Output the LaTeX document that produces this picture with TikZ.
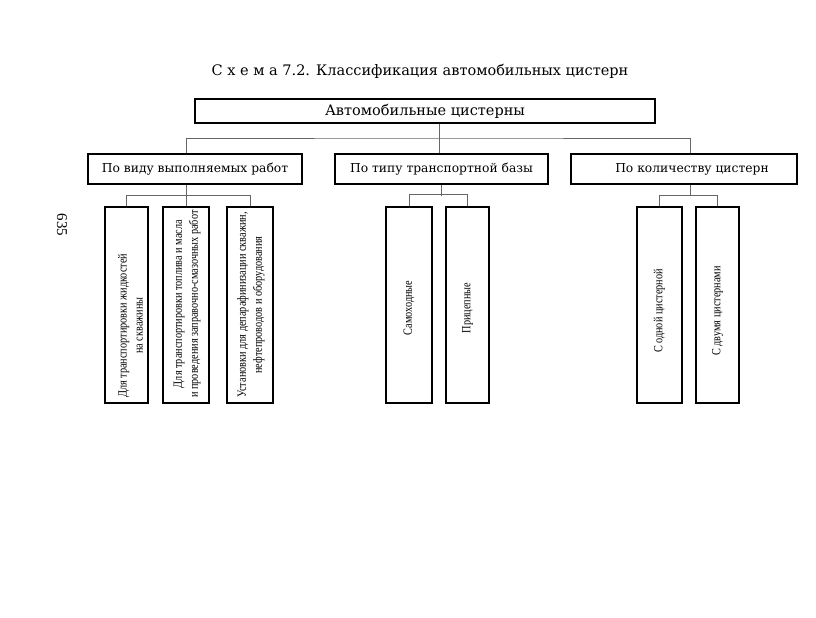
\documentclass[tikz,border=0pt]{standalone}
\usepackage{fontspec}
\setmainfont{Liberation Serif}
\newfontfamily\headfont{DejaVu Serif}
\newfontfamily\narrowfont[FakeStretch=0.82]{Liberation Serif}
\usetikzlibrary{positioning,calc}

\tikzset{
  rootbox/.style={draw,line width=2pt,minimum width=460pt,minimum height=24pt,inner sep=0pt,font=\headfont\fontsize{14.5}{16}\selectfont},
  groupbox/.style={draw,line width=1.8pt,minimum height=30pt,inner sep=0pt,font=\headfont\fontsize{12.3}{14}\selectfont},
  leafbox/.style={draw,line width=1.8pt,minimum height=196pt,inner sep=0pt},
  leaftext/.style={rotate=90,align=center,inner sep=0pt,font=\narrowfont\fontsize{12.5}{16}\selectfont},
  conn/.style={draw=black!60,line width=0.7pt}
}

\begin{document}
\begin{tikzpicture}[x=1pt,y=-1pt]
\useasboundingbox (0,0) rectangle (816,618);

% title and page number
\node (title) at (420,71) {\headfont\fontsize{14.5}{16}\selectfont С х е м а 7.2. Классификация автомобильных цистерн};
\node[rotate=-90,font=\fontsize{15}{16}\selectfont] (page) at (62,225) {635};

% boxes
\node[rootbox] (root) at (425,111) {Автомобильные цистерны};
\node[groupbox,minimum width=214pt] (work) at (195,169) {По виду выполняемых работ};
\node[groupbox,minimum width=213pt] (base) at (441.5,169) {По типу транспортной базы};
\node[groupbox,minimum width=226pt] (count) at (684,169) {\hspace{16pt}По количеству цистерн};

% leaves
\node[leafbox,minimum width=43pt] (fluid) at (126.5,305) {};
\node[leafbox,minimum width=46pt] (fuel) at (186,305) {};
\node[leafbox,minimum width=46pt] (dewax) at (250,305) {};
\node[leafbox,minimum width=46pt] (self) at (409,305) {};
\node[leafbox,minimum width=43pt] (trail) at (467.5,305) {};
\node[leafbox,minimum width=45pt] (one) at (659.5,305) {};
\node[leafbox,minimum width=43pt] (two) at (717.5,305) {};

% long texts start near the bottom edge
\node[leaftext,anchor=west] at ([xshift=4pt,yshift=6pt]fluid.south) {Для транспортировки жидкостей\\на скважины};
\node[leaftext,anchor=west] at ([xshift=1pt,yshift=6pt]fuel.south) {Для транспортировки топлива и масла\\и проведения заправочно-смазочных работ};
\node[leaftext,anchor=west] at ([xshift=1pt,yshift=6pt]dewax.south) {Установки для депарафинизации скважин,\\нефтепроводов и оборудования};
\node[leaftext] at ([yshift=-3pt]self.center) {Самоходные};
\node[leaftext] at ([yshift=-3pt]trail.center) {Прицепные};
\node[leaftext] at ([yshift=-6pt]one.center) {С одной цистерной};
\node[leaftext] at ([yshift=-6pt]two.center) {С двумя цистернами};

% connectors
\coordinate (bus) at (439,138);
\draw[conn] ([xshift=14pt]root.south) -- (bus);
\draw[conn] ([xshift=-9pt]work.north) |- (bus) -| ([xshift=6pt]count.north);
\draw[conn] (base.north -| bus) -- (bus);

\draw[conn] (fluid.north) -- ++(0,-11) -| (dewax.north);
\draw[conn] (fuel.north) -- (fuel.north |- work.south);
\draw[conn] (self.north) -- ++(0,-12) -| (trail.north);
\draw[conn] (base.south) -- ++(0,11);
\draw[conn] (one.north) -- ++(0,-11) -| (two.north);
\draw[conn] ([xshift=6pt]count.south) -- ++(0,11);
\end{tikzpicture}
\end{document}
